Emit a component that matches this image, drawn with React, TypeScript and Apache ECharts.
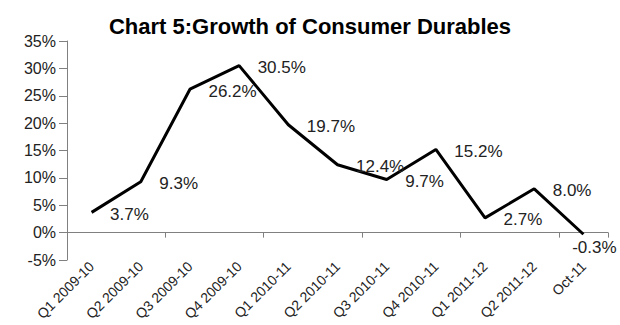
import React, { useEffect, useRef } from "react";
import * as echarts from "echarts";

const categories = [
  "Q1 2009-10",
  "Q2 2009-10",
  "Q3 2009-10",
  "Q4 2009-10",
  "Q1 2010-11",
  "Q2 2010-11",
  "Q3 2010-11",
  "Q4 2010-11",
  "Q1 2011-12",
  "Q2 2011-12",
  "Oct-11",
];
const growth = [3.7, 9.3, 26.2, 30.5, 19.7, 12.4, 9.7, 15.2, 2.7, 8.0, -0.3];
const belowLabelIndex = 10;
const titleText = "Chart 5:Growth of Consumer Durables";

export default function App() {
  const ref = useRef<HTMLDivElement>(null);
  useEffect(() => {
    if (!ref.current) return;
    const chart = echarts.init(ref.current, null, { renderer: "svg" });
    const font = "'Liberation Sans', Arial, sans-serif";
    const seriesData = growth.map((v, i) =>
      i === belowLabelIndex
        ? { value: v, label: { position: "bottom", distance: 4, offset: [11, 0] } }
        : v
    );
    chart.setOption({
      animation: false,
      backgroundColor: "#ffffff",
      title: {
        text: titleText,
        left: "center",
        top: 10,
        textStyle: { fontFamily: font, fontSize: 22, fontWeight: "bold", color: "#000" },
      },
      grid: {
        left: 67,
        right: 12,
        top: 41,
        bottom: 65,
        containLabel: false,
        outerBoundsMode: "none",
      },
      xAxis: [
        {
          type: "category",
          data: categories,
          boundaryGap: true,
          axisLine: { show: true, onZero: true, lineStyle: { color: "#808080", width: 1 } },
          axisTick: { show: true, length: 5, lineStyle: { color: "#808080" } },
          axisLabel: { show: false },
          splitLine: { show: false },
        },
        {
          type: "category",
          data: categories,
          position: "bottom",
          boundaryGap: true,
          axisLine: { show: false },
          axisTick: { show: false },
          axisLabel: {
            show: true,
            rotate: 45,
            interval: 0,
            margin: 4,
            fontFamily: font,
            fontSize: 14,
            color: "#222",
          },
          splitLine: { show: false },
        },
      ],
      yAxis: {
        type: "value",
        min: -5,
        max: 35,
        interval: 5,
        axisLine: { show: true, lineStyle: { color: "#808080", width: 1 } },
        axisTick: { show: true, length: 8, lineStyle: { color: "#808080" } },
        axisLabel: {
          formatter: "{value}%",
          margin: 11,
          fontFamily: font,
          fontSize: 16,
          color: "#222",
        },
        splitLine: { show: false },
      },
      series: [
        {
          type: "line",
          xAxisIndex: 0,
          data: seriesData,
          symbol: "circle",
          symbolSize: 1,
          showSymbol: true,
          itemStyle: { color: "rgba(0,0,0,0)", borderWidth: 0 },
          lineStyle: { color: "#000", width: 3 },
          label: {
            show: true,
            position: "right",
            distance: 18,
            offset: [0, 2],
            formatter: (p: any) => `${Number(p.value).toFixed(1)}%`,
            fontFamily: font,
            fontSize: 17,
            color: "#222",
          },
        },
      ],
    });
    return () => chart.dispose();
  }, []);
  return (
    <div
      ref={ref}
      style={{ position: "fixed", left: 0, top: 0, width: 620, height: 325, background: "#fff" }}
    />
  );
}
